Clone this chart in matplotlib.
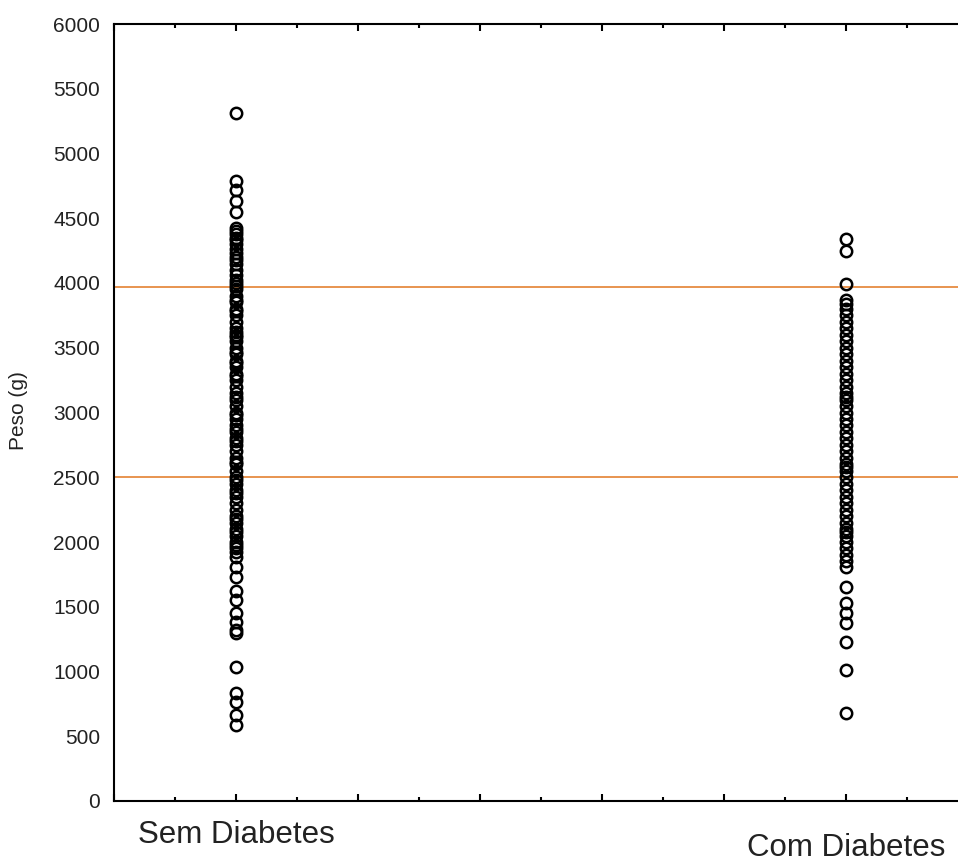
import matplotlib.pyplot as plt

plt.rcParams['font.family'] = ['Liberation Sans', 'DejaVu Sans']

groups = ["Sem Diabetes", "Com Diabetes"]
group_pos = [1, 6]

# birth weights (g)
sem_diabetes = [5315, 4790, 4720, 4630, 4545,
                4425, 4405, 4380, 4350, 4330, 4300, 4260, 4230, 4200, 4180,
                4150, 4100, 4060, 4020, 4000, 3980, 3950, 3900, 3870, 3850,
                3800, 3780, 3750, 3700, 3650, 3620, 3600, 3580, 3550, 3500,
                3470, 3450, 3400, 3380, 3350, 3300, 3280, 3250, 3200, 3150,
                3120, 3100, 3050, 3000, 2980, 2950, 2900, 2870, 2850, 2800,
                2780, 2750, 2700, 2650, 2620, 2600, 2550, 2500, 2480, 2450,
                2400, 2380, 2350, 2300, 2250, 2200, 2180, 2150, 2100, 2080,
                2050, 2000, 1980, 1950, 1920, 1885,
                1805, 1730, 1625, 1550, 1450, 1385, 1320, 1300,
                1035, 835, 765, 665, 590]
com_diabetes = [4340, 4250, 3995,
                3870, 3840, 3800, 3750, 3700, 3650, 3600, 3550, 3500, 3450,
                3400, 3350, 3300, 3250, 3200, 3150, 3120, 3100, 3050, 3000,
                2950, 2900, 2850, 2800, 2750, 2700, 2650, 2600, 2580, 2550,
                2500, 2450, 2400, 2350, 2300, 2250, 2200, 2150, 2100, 2080,
                2050, 2000, 1950, 1900, 1850, 1805,
                1650, 1530, 1450, 1375, 1225, 1010, 680]
ref_lines = [2500, 3970]

fig = plt.figure(figsize=(9.58, 8.66), dpi=100)
ax = fig.add_axes([114 / 958, 65 / 866, 854 / 958, 777 / 866])

for xpos, vals in zip(group_pos, [sem_diabetes, com_diabetes]):
    ax.plot([xpos] * len(vals), vals, "o", markersize=8.2, markerfacecolor="none",
            markeredgecolor="black", markeredgewidth=1.8, zorder=3)

for v in ref_lines:
    ax.axhline(v, color="#E8944F", linewidth=1.4, zorder=2)

ax.set_xlim(0, 7)
ax.set_ylim(0, 6000)
ax.set_yticks(range(0, 6001, 500))
ax.tick_params(axis="y", length=0, pad=10, labelsize=15, labelcolor="#222222")
ax.set_xticks(range(0, 8))
ax.set_xticks([k + 0.5 for k in range(7)], minor=True)
ax.tick_params(axis="x", which="both", direction="in", top=True, bottom=True,
               labelbottom=False, width=1.5)
ax.tick_params(axis="x", which="major", length=5)
ax.tick_params(axis="x", which="minor", length=3)
for s in ax.spines.values():
    s.set_linewidth(1.5)

trans = ax.get_xaxis_transform()
ax.text(group_pos[0], -0.044, groups[0], transform=trans, ha="center", va="center",
        fontsize=22.5, color="#222222")
ax.text(group_pos[1], -0.061, groups[1], transform=trans, ha="center", va="center",
        fontsize=22.5, color="#222222")

fig.text(19 / 958, 1 - 411 / 866, "Peso (g)", rotation=90, ha="center", va="center",
         fontsize=15, color="#222222")

fig.savefig("out.png", dpi=100)
